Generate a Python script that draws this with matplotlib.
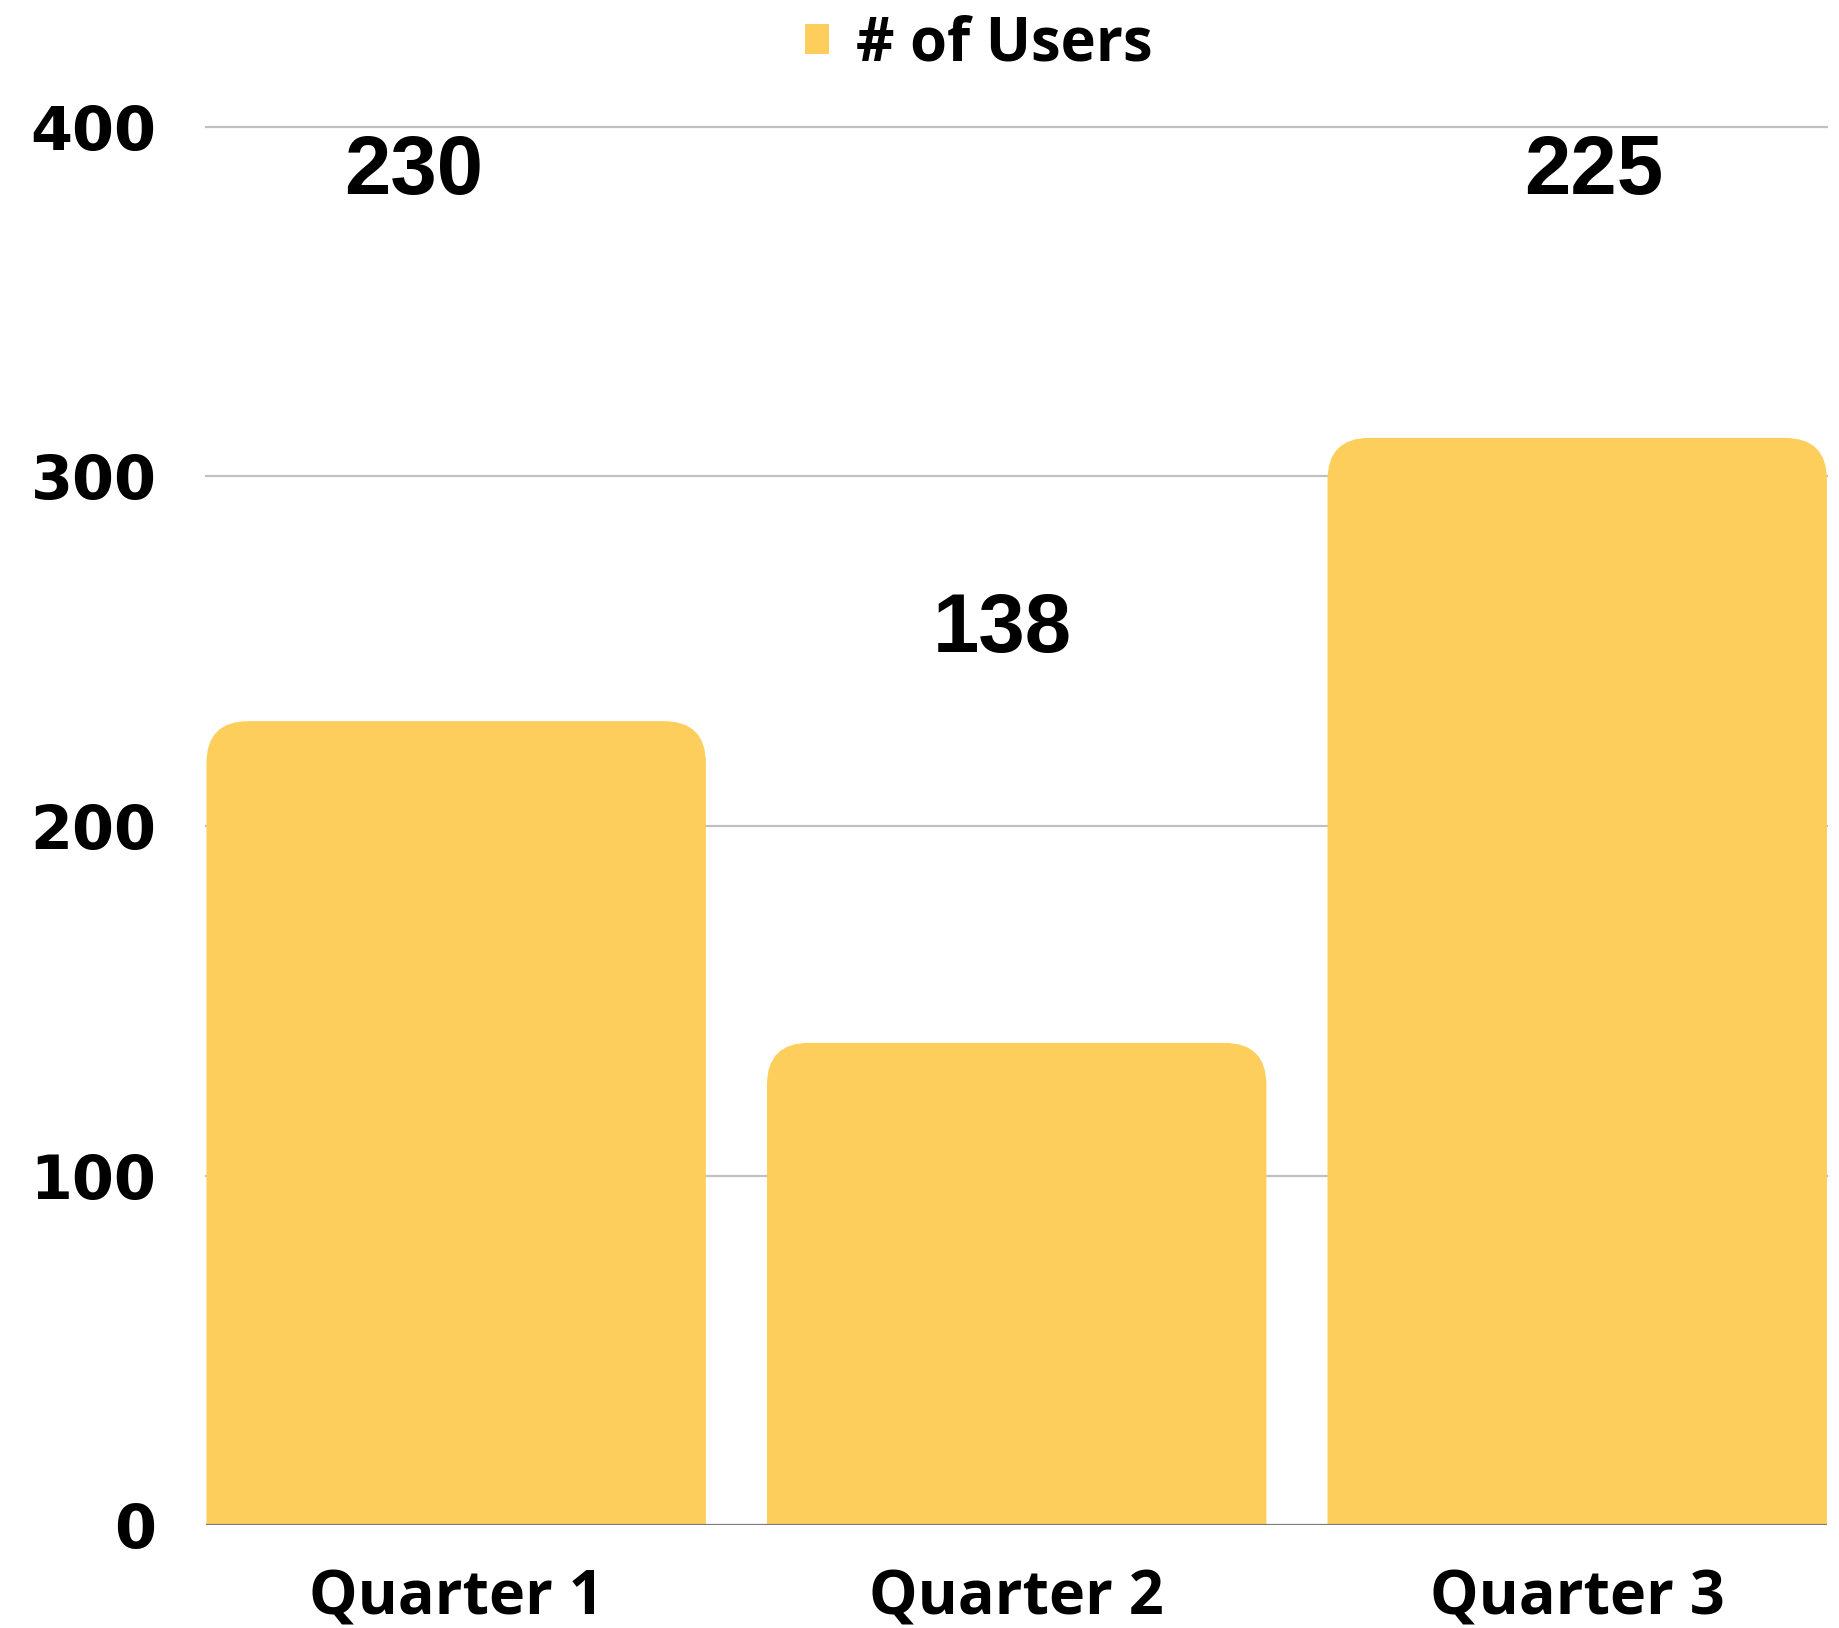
import matplotlib
matplotlib.use("Agg")
from matplotlib import pyplot as plt
from matplotlib.patches import FancyBboxPatch, Patch

# data
quarters = ["Quarter 1", "Quarter 2", "Quarter 3"]
users = [230, 138, 311]
label_text = ["230", "138", "225"]
label_y = [387, 256, 387]
label_dx = [-0.075, -0.025, 0.03]
y_ticks = [0, 100, 200, 300, 400]

BAR_COLOR = "#FDCE5B"
BAR_W = 0.891
TICK_FONT = ["DejaVu Sans"]
LABEL_FONT = ["Liberation Sans", "DejaVu Sans"]
TEXT_FONT = ["Open Sans", "DejaVu Sans"]

fig = plt.figure(figsize=(18.4, 16.28), dpi=100)
ax = fig.add_axes([0.1122, 0.063, 0.8807, 0.8592])
ax.set_xlim(-BAR_W / 2, len(quarters) - 1 + BAR_W / 2)
ax.set_ylim(0, 400)

# aspect so the rounded corners come out circular on screen
bb = ax.get_window_extent()
xlo, xhi = ax.get_xlim()
ylo, yhi = ax.get_ylim()
aspect = ((yhi - ylo) / bb.height) / ((xhi - xlo) / bb.width)
r = 0.075

for i, v in enumerate(users):
    # start below zero so the bottom corners get clipped away
    p = FancyBboxPatch((i - BAR_W / 2, -60), BAR_W, v + 60,
                       boxstyle=f"round,pad=0,rounding_size={r}",
                       mutation_aspect=aspect,
                       facecolor=BAR_COLOR, edgecolor="none", zorder=2)
    ax.add_patch(p)
    ax.text(i + label_dx[i], label_y[i], label_text[i], ha="center", va="center",
            fontsize=60, fontweight="bold", family=LABEL_FONT, zorder=4)

for t in y_ticks[1:]:
    ax.axhline(t, color="#c0c0c0", lw=1.6, zorder=1, clip_on=False)
ax.axhline(0, color="#7a7a7a", lw=1.6, zorder=3)

for s in ax.spines.values():
    s.set_visible(False)

ax.set_yticks(y_ticks)
ax.set_yticklabels([str(t) for t in y_ticks], fontsize=43.5, fontweight="bold", family=TICK_FONT)
ax.set_xticks(range(len(quarters)))
ax.set_xticklabels(quarters, fontsize=44, fontweight="bold", family=TEXT_FONT)
ax.tick_params(axis="y", length=0, pad=36)
ax.tick_params(axis="x", length=0, pad=31)

fig.legend(handles=[Patch(facecolor=BAR_COLOR, edgecolor="none", label="# of Users")],
           loc="upper center", bbox_to_anchor=(0.532, 1.024), frameon=False,
           prop={"family": TEXT_FONT, "weight": "bold", "size": 43},
           handlelength=0.4, handleheight=0.4, handletextpad=0.45)

fig.savefig("out.png", dpi=100)
